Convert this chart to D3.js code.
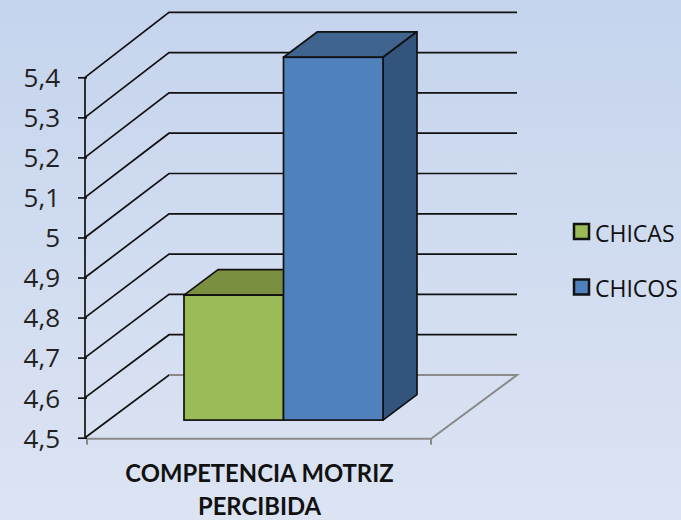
<!DOCTYPE html>
<html>
<head>
<meta charset="utf-8">
<script src="https://d3js.org/d3.v7.min.js"></script>
<style>
  html, body { margin: 0; padding: 0; }
  svg { display: block; }
  text { font-family: "Open Sans", Lato, sans-serif; fill: #111; }
</style>
</head>
<body>
<div id="chart"></div>
<script>
var series = ["CHICAS", "CHICOS"];
var values = [4.812, 5.406];
var yTicks = [4.5, 4.6, 4.7, 4.8, 4.9, 5, 5.1, 5.2, 5.3, 5.4];
var titleLines = ["COMPETENCIA MOTRIZ", "PERCIBIDA"];

var w = 681, h = 520;

//front and back planes of the 3d box
var frontLeft = 85, backLeft = 169, backRight = 517, floorRight = 431;
var yFront = d3.scaleLinear().domain([4.5, 5.4]).range([437.7, 77.3]);
var yBack = d3.scaleLinear().domain([4.5, 5.4]).range([375, 12.3]);

//bars sit a bit behind the front plane
var barShift = {x: 0, y: -17.6};
var barDepth = {x: 34, y: -25.5};
var xBar = d3.scaleBand().domain(series).range([184, 383]);

var fills = {CHICAS: "#9bbb59", CHICOS: "#4f81bd"};
var topFills = {CHICAS: "#7a9040", CHICOS: "#3f6490"};
var sideFills = {CHICAS: "#6d8238", CHICOS: "#32547d"};

var svg = d3.select("#chart").append("svg")
  .attr("width", w)
  .attr("height", h);

//background gradient
var grad = svg.append("defs").append("linearGradient")
  .attr("id", "bg")
  .attr("x1", 0).attr("y1", 0).attr("x2", 0).attr("y2", 1);
grad.append("stop").attr("offset", "0%").attr("stop-color", "#c5d4ed");
grad.append("stop").attr("offset", "100%").attr("stop-color", "#dce4f3");

svg.append("rect")
  .attr("width", w)
  .attr("height", h)
  .attr("fill", "url(#bg)");

var line = d3.line();

//grid lines, side wall then back wall
svg.selectAll(".grid")
  .data(yTicks)
  .enter()
  .append("path")
  .attr("class", "grid")
  .attr("d", function(d) {
    return line([[frontLeft, yFront(d)], [backLeft, yBack(d)], [backRight, yBack(d)]]);
  })
  .attr("fill", "none")
  .attr("stroke", "#111")
  .attr("stroke-width", 1.7);

//floor goes over the lowest grid line on the back wall
svg.append("path")
  .attr("d", line([[frontLeft + 2, yFront(4.5) + 1], [floorRight, yFront(4.5) + 1], [backRight, yBack(4.5)], [backLeft, yBack(4.5)]]))
  .attr("fill", "none")
  .attr("stroke", "#8a8a8a")
  .attr("stroke-width", 2);

svg.selectAll(".floorTick")
  .data([frontLeft + 2, floorRight])
  .enter()
  .append("line")
  .attr("class", "floorTick")
  .attr("x1", function(d) { return d; })
  .attr("x2", function(d) { return d; })
  .attr("y1", yFront(4.5) + 1)
  .attr("y2", yFront(4.5) + 7)
  .attr("stroke", "#8a8a8a")
  .attr("stroke-width", 2);

//bars
function barCorners(name, i) {
  var x0 = xBar(name) + barShift.x;
  var x1 = x0 + xBar.bandwidth();
  return {
    x0: x0,
    x1: x1,
    top: yFront(values[i]) + barShift.y,
    bottom: yFront(4.5) + barShift.y
  };
}

var bars = svg.selectAll(".bar")
  .data(series)
  .enter()
  .append("g")
  .attr("class", "bar");

bars.append("path")
  .attr("d", function(d, i) {
    var c = barCorners(d, i);
    return line([[c.x0, c.top], [c.x0 + barDepth.x, c.top + barDepth.y], [c.x1 + barDepth.x, c.top + barDepth.y], [c.x1, c.top]]) + "Z";
  })
  .attr("fill", function(d) { return topFills[d]; })
  .attr("stroke", "#111")
  .attr("stroke-width", 1.7)
  .attr("stroke-linejoin", "round");

bars.append("path")
  .attr("d", function(d, i) {
    var c = barCorners(d, i);
    return line([[c.x1, c.top], [c.x1 + barDepth.x, c.top + barDepth.y], [c.x1 + barDepth.x, c.bottom + barDepth.y], [c.x1, c.bottom]]) + "Z";
  })
  .attr("fill", function(d) { return sideFills[d]; })
  .attr("stroke", "#111")
  .attr("stroke-width", 1.7)
  .attr("stroke-linejoin", "round");

bars.append("rect")
  .attr("x", function(d, i) { return barCorners(d, i).x0; })
  .attr("y", function(d, i) { return barCorners(d, i).top; })
  .attr("width", xBar.bandwidth())
  .attr("height", function(d, i) { var c = barCorners(d, i); return c.bottom - c.top; })
  .attr("fill", function(d) { return fills[d]; })
  .attr("stroke", "#111")
  .attr("stroke-width", 1.7);

//y axis
var yAxis = d3.axisLeft(yFront)
  .tickValues(yTicks)
  .tickSize(7)
  .tickPadding(18)
  .tickFormat(function(d) { return String(d).replace(".", ","); });

var axisG = svg.append("g")
  .attr("transform", "translate(" + frontLeft + ",0)")
  .call(yAxis);

axisG.select(".domain").attr("stroke", "#111").attr("stroke-width", 1.7).attr("d", "M0," + yFront(5.4) + "V" + yFront(4.5));
axisG.selectAll(".tick line").attr("stroke", "#111").attr("stroke-width", 1.7).attr("x1", 2).attr("x2", -7);
axisG.selectAll(".tick text")
  .style("font-size", "26px")
  .style("fill", "#222")
  .attr("dy", "0.36em");

//category label, Lato here so the last line stays inside the page
svg.selectAll(".catTitle")
  .data(titleLines)
  .enter()
  .append("text")
  .attr("class", "catTitle")
  .attr("x", 259.5)
  .attr("y", function(d, i) { return 482 + i * 32.7; })
  .attr("text-anchor", "middle")
  .style("font-family", "Lato, sans-serif")
  .style("font-size", "23.8px")
  .style("font-weight", "bold")
  .text(function(d) { return d; });

//legend
var legendY = d3.scalePoint().domain(series).range([231.5, 287]);

var legend = svg.selectAll(".legendItem")
  .data(series)
  .enter()
  .append("g")
  .attr("class", "legendItem")
  .attr("transform", function(d) { return "translate(573," + legendY(d) + ")"; });

legend.append("rect")
  .attr("x", 1)
  .attr("y", -7.5)
  .attr("width", 15)
  .attr("height", 15)
  .attr("fill", function(d) { return fills[d]; })
  .attr("stroke", "#111")
  .attr("stroke-width", 2.5);

legend.append("text")
  .attr("x", 22)
  .attr("y", 10)
  .style("font-size", "23px")
  .text(function(d) { return d; });
</script>
</body>
</html>
